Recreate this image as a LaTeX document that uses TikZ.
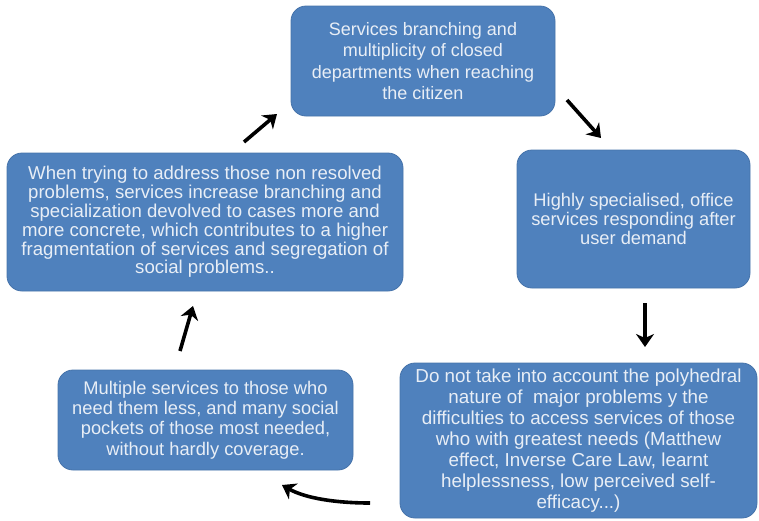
\documentclass[tikz,border=0pt]{standalone}
\usepackage{fontspec}
\setmainfont{Liberation Sans}
\usetikzlibrary{arrows.meta}
\definecolor{boxblue}{RGB}{79,129,189}
\definecolor{boxedge}{RGB}{70,115,170}
\definecolor{boxtext}{RGB}{232,238,246}
\tikzset{
  cyclebox/.style={draw=boxedge, line width=0.8pt, fill=boxblue, rounded corners=15pt,
    text=boxtext, align=center, inner sep=0pt},
  cyclearrow/.style={line width=3.6pt, -{Stealth[length=13pt,width=18pt,inset=4pt]}, black}
}
\begin{document}
\begin{tikzpicture}[x=1pt,y=-1pt]
\useasboundingbox (0,0) rectangle (759,520);
\node[cyclebox, minimum width=264pt, minimum height=110pt,
  font=\fontsize{18}{21.2}\selectfont] (top) at (423,61)
  {Services branching and\\multiplicity of closed\\departments when reaching\\the citizen};
\node[cyclebox, minimum width=233pt, minimum height=138pt,
  font=\fontsize{18.3}{19}\selectfont] (right) at (633.5,219)
  {Highly specialised, office\\services responding after\\user demand};
\node[cyclebox, minimum width=357pt, minimum height=155pt,
  font=\fontsize{18.8}{21.1}\selectfont] (br) at (578.5,440.5)
  {Do not take into account the polyhedral\\nature of\ \ major problems y the\\difficulties to access services of those\\who with greatest needs (Matthew\\effect, Inverse Care Law, learnt\\helplessness, low perceived self-\\efficacy...)};
\node[cyclebox, minimum width=295pt, minimum height=100pt,
  font=\fontsize{18.3}{20.4}\selectfont] (bl) at (205.5,420)
  {Multiple services to those who\\need them less, and many social\\pockets of those most needed,\\without hardly coverage.};
\node[cyclebox, minimum width=396pt, minimum height=138pt,
  font=\fontsize{18.6}{18.8}\selectfont] (left) at (205,222)
  {When trying to address those non resolved\\problems, services increase branching and\\specialization devolved to cases more and\\more concrete, which contributes to a higher\\fragmentation of services and segregation of\\social problems..};
\coordinate (a1s) at (567,100);
\coordinate (a1e) at (601,138);
\coordinate (a2s) at (645,303);
\coordinate (a2e) at (645,347);
\coordinate (a3s) at (370,503);
\coordinate (a3e) at (282,485);
\coordinate (a4s) at (180,351);
\coordinate (a4e) at (193,306);
\coordinate (a5s) at (244,142);
\coordinate (a5e) at (277,114);
\draw[cyclearrow] (a1s) -- (a1e);
\draw[cyclearrow] (a2s) -- (a2e);
\draw[cyclearrow] (a3s) .. controls (335,503) and (305,498) .. (a3e);
\draw[cyclearrow] (a4s) -- (a4e);
\draw[cyclearrow] (a5s) -- (a5e);
\end{tikzpicture}
\end{document}
